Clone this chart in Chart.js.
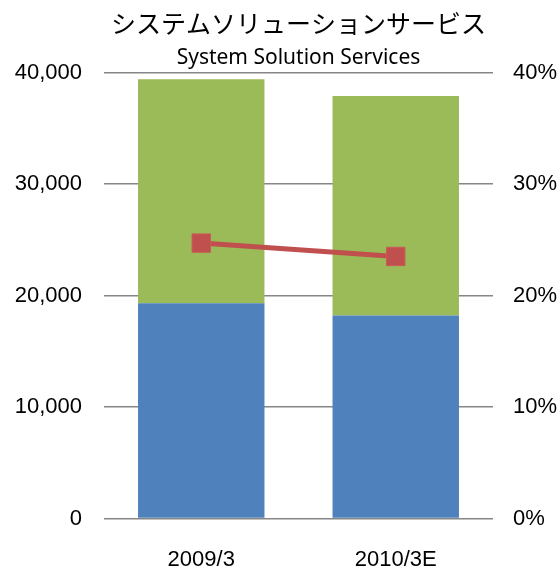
<!DOCTYPE html>
<html>
<head>
<meta charset="utf-8">
<script src="https://cdn.jsdelivr.net/npm/chart.js@4/dist/chart.umd.min.js"></script>
<style>
  html, body { margin: 0; padding: 0; background: #fff; }
  #wrap { width: 558px; height: 571px; }
</style>
</head>
<body>
<div id="wrap"><canvas id="chart" width="558" height="571"></canvas></div>
<script>
// data
const categories = ['2009/3', '2010/3E'];
const lowerPart = [19300, 18200];     // blue segment
const upperPart = [20100, 19700];     // green segment (stacked on top)
const ratioPct = [24.7, 23.5];        // red line, right axis (%)
const leftTicks = [0, 10000, 20000, 30000, 40000];
const rightTicks = [0, 10, 20, 30, 40];

const tickFont = { family: '"Liberation Sans", Arial, sans-serif', size: 22 };
const gridColor = '#868686';

new Chart(document.getElementById('chart'), {
    data: {
        labels: categories,
        datasets: [
            {
                type: 'line',
                data: ratioPct,
                yAxisID: 'y1',
                borderColor: '#C0504D',
                backgroundColor: '#C0504D',
                borderWidth: 5,
                pointStyle: 'rect',
                pointRadius: 13,
                pointBorderWidth: 1,
                pointBorderColor: '#C95B58',
                order: 0
            },
            {
                type: 'bar',
                data: lowerPart,
                backgroundColor: '#4F81BD',
                barPercentage: 0.65,
                categoryPercentage: 1,
                order: 1
            },
            {
                type: 'bar',
                data: upperPart,
                backgroundColor: '#9BBB59',
                barPercentage: 0.65,
                categoryPercentage: 1,
                order: 1
            }
        ]
    },
    options: {
        responsive: false,
        animation: false,
        layout: { padding: 0 },
        plugins: {
            legend: { display: false },
            tooltip: { enabled: false },
            // fullSize false -> titles are centred over the plot area, not the canvas
            title: {
                display: true,
                fullSize: false,
                text: 'システムソリューションサービス',
                color: '#000',
                font: { family: '"Noto Sans CJK JP", sans-serif', size: 25, weight: 'normal' },
                padding: { top: 8, bottom: 0 }
            },
            subtitle: {
                display: true,
                fullSize: false,
                text: 'System Solution Services',
                color: '#000',
                font: { family: '"Noto Sans", sans-serif', size: 21 },
                padding: { top: 7, bottom: 2.3 }
            }
        },
        scales: {
            x: {
                stacked: true,
                grid: { display: false },
                border: { display: false },
                ticks: { color: '#000', font: tickFont, padding: 20, maxRotation: 0 },
                afterFit: (s) => { s.height = 52.5; }
            },
            y: {
                stacked: true,
                position: 'left',
                min: 0,
                max: 40000,
                afterBuildTicks: (s) => { s.ticks = leftTicks.map(v => ({ value: v })); },
                grid: { color: gridColor, lineWidth: 1.5, drawTicks: false },
                border: { display: false },
                ticks: {
                    color: '#000',
                    font: tickFont,
                    padding: 22,
                    callback: (v) => v.toLocaleString('en-US')
                },
                afterFit: (s) => { s.width = 104; }
            },
            y1: {
                position: 'right',
                min: 0,
                max: 40,
                afterBuildTicks: (s) => { s.ticks = rightTicks.map(v => ({ value: v })); },
                grid: { display: false, drawTicks: false },
                border: { display: false },
                ticks: {
                    color: '#000',
                    font: tickFont,
                    padding: 20,
                    callback: (v) => v + '%'
                },
                afterFit: (s) => { s.width = 65; }
            }
        }
    }
});
</script>
</body>
</html>
